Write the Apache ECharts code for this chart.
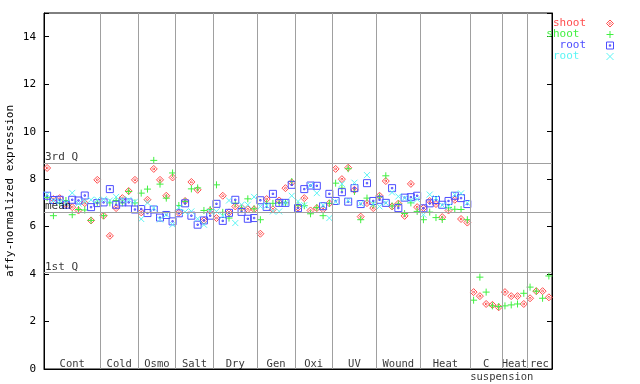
<!DOCTYPE html>
<html><head><meta charset="utf-8">
<script src="https://cdn.jsdelivr.net/npm/echarts@6/dist/echarts.min.js"></script>
<style>html,body{margin:0;padding:0;background:#fff}#c{width:640px;height:384px}</style>
</head><body><div id="c"></div>
<script>
// ---- data ----
const groups = ['Cont','Cold','Osmo','Salt','Dry','Gen','Oxi','UV','Wound','Heat','C','Heat','rec'];
const groupSizes = [9,6,6,6,7,6,6,7,7,8,5,4,4];
const suspensionLabel = 'suspension';
const suspensionCenter = 73.5;
const refLines = [{name:'3rd Q', value:8.68},{name:'mean', value:6.61},{name:'1st Q', value:4.08}];
const yTicks = [0,2,4,6,8,10,12,14];

const shootRed = [8.47,7.16,7.20,6.95,6.82,6.68,6.99,6.26,7.97,
  6.46,5.61,6.78,7.20,7.50,7.97,
  6.60,7.13,8.43,7.97,7.30,8.07,
  6.58,7.08,7.88,7.55,6.26,6.67,
  6.36,7.30,6.60,6.85,6.80,6.73,6.73,
  5.70,7.16,6.73,7.10,7.62,7.86,
  6.80,7.20,6.68,6.78,6.73,6.98,
  8.43,8.00,8.48,7.55,6.42,6.99,6.78,
  7.30,7.92,6.85,6.97,6.45,7.80,6.82,
  6.78,7.08,6.95,6.40,6.68,7.13,6.32,6.17,
  3.24,3.07,2.74,2.70,2.60,
  3.24,3.07,3.07,2.74,
  2.98,3.28,3.28,3.02];
const shootGreen = [7.22,6.46,7.02,7.10,6.50,6.72,6.70,6.26,7.00,
  6.46,7.00,7.10,7.00,7.48,7.00,
  7.41,7.58,8.79,7.79,7.20,8.26,
  6.89,7.06,7.59,7.63,6.68,6.72,
  7.76,6.60,6.36,6.98,6.76,7.17,6.75,
  6.29,6.98,6.98,7.00,7.00,7.90,
  6.90,6.88,6.54,6.80,6.46,6.98,
  7.83,7.62,8.44,7.48,6.29,7.20,6.93,
  7.25,8.14,6.87,6.95,6.55,7.00,6.64,
  6.29,6.61,6.38,6.30,6.81,6.73,6.72,6.29,
  2.90,3.87,3.24,2.66,2.63,
  2.66,2.70,2.74,3.19,
  3.45,3.28,2.98,3.92];
const rootBlue = [7.30,7.12,7.13,6.92,7.13,7.10,7.31,6.82,6.99,
  7.02,7.58,6.92,7.02,7.02,6.72,
  6.74,6.57,6.72,6.38,6.49,6.22,
  6.56,6.98,6.46,6.08,6.26,6.46,
  6.96,6.24,6.58,7.13,6.62,6.33,6.36,
  7.11,6.83,7.38,7.00,7.00,7.76,
  6.78,7.58,7.73,7.72,6.86,7.38,
  7.08,7.45,7.05,7.62,6.95,7.83,7.08,
  7.13,7.00,7.62,6.78,7.22,7.24,7.30,
  6.77,6.98,7.12,6.92,7.08,7.30,7.20,6.95,
  null,null,null,null,null,null,null,null,null,null,null,null,null];
const rootCyan = [7.35,7.10,7.05,7.00,7.42,6.97,7.06,7.13,7.13,
  7.15,7.10,7.25,7.15,7.13,7.05,
  6.32,7.00,6.78,6.30,6.50,6.08,
  6.80,6.62,6.64,6.33,6.08,6.64,
  6.64,6.45,7.10,6.15,6.92,6.92,7.25,
  6.85,6.88,6.64,6.64,7.00,7.30,
  7.06,6.90,7.73,7.41,6.90,6.36,
  7.05,7.80,7.10,7.85,6.97,8.17,6.95,
  6.85,7.00,7.44,7.27,7.20,7.10,7.15,
  6.50,7.35,7.20,6.90,6.85,7.35,7.40,7.00,
  null,null,null,null,null,null,null,null,null,null,null,null,null];

// ---- derived ----
const FONT = 'DejaVu Sans Mono';
const nPts = groupSizes.reduce((a,b)=>a+b,0);
const boundaries = []; const centers = [];
let acc = 0;
groupSizes.forEach((s,i)=>{ centers.push(acc + 0.5 + s/2); acc += s; if (i < groupSizes.length-1) boundaries.push(acc + 0.5); });
const toPts = arr => arr.map((v,i)=> v==null ? null : [i+1, v]).filter(p=>p);

const C_RED='#ff4d4d', C_GREEN='#40f040', C_BLUE='#4d4dff', C_CYAN='#5cf5f5';
const SYM_DIAMOND='path://M0,-3L3,0L0,3L-3,0Z M0,-1L1,0L0,1L-1,0Z';
const SYM_PLUS='path://M0,-3L0,3M-3,0L3,0';
const SYM_SQUARE='path://M-3,-3L3,-3L3,3L-3,3Z M-0.6,-0.6L0.6,-0.6L0.6,0.6L-0.6,0.6Z';
const SYM_X='path://M-3,-3L3,3M-3,3L3,-3';

function scatter(name, data, sym, size, col){
  return {name, type:'scatter', data:toPts(data), symbol:sym, symbolSize:size, clip:false,
    itemStyle:{color:'rgba(0,0,0,0)', borderColor:col, borderWidth:1, opacity:1}, silent:true};
}
function legendItem(name, col, sym){
  return {name, icon:sym, textStyle:{color:col},
    itemStyle:{color:'rgba(0,0,0,0)', borderColor:col, borderWidth:1}};
}

const chart = echarts.init(document.getElementById('c'), null, {renderer:'canvas'});
const gray = '#a0a0a0';
const option = {
  animation:false,
  backgroundColor:'#fff',
  grid:{left:44, right:88, top:13, bottom:15, show:true, borderColor:'#000', borderWidth:1,
    backgroundColor:'transparent', containLabel:false, outerBoundsMode:'none'},
  xAxis:{type:'value', min:0.5, max:nPts+0.5, axisLabel:{show:false}, axisTick:{show:false}, splitLine:{show:false},
    axisLine:{show:true, lineStyle:{color:'#000', width:1}}},
  yAxis:[{type:'value', min:0, max:15, interval:2, position:'left',
      name:'affy-normalized expression', nameLocation:'middle', nameGap:28, nameMoveOverlap:false,
      nameTextStyle:{fontFamily:FONT, fontSize:11, color:'#000'},
      axisLine:{show:true, lineStyle:{color:'#000'}},
      axisTick:{show:true, inside:true, length:5, lineStyle:{color:'#000'}},
      axisLabel:{fontFamily:FONT, fontSize:11, color:'#000', margin:8,
        formatter: v => yTicks.includes(v) ? String(v) : ''},
      splitLine:{show:false}},
    {type:'value', min:0, max:15, interval:2, position:'right',
      axisLine:{show:true, lineStyle:{color:'#000'}},
      axisTick:{show:true, inside:true, length:5, lineStyle:{color:'#000'}},
      axisLabel:{show:false}, splitLine:{show:false}}],
  legend:{orient:'vertical', right:21, top:13, align:'right', itemWidth:38, itemHeight:7, itemGap:0,
    selectedMode:false,
    textStyle:{fontFamily:FONT, fontSize:11, lineHeight:11, padding:0},
    data:[legendItem('shoot', C_RED, SYM_DIAMOND), legendItem('shoot ', C_GREEN, SYM_PLUS),
          legendItem('root', C_BLUE, SYM_SQUARE), legendItem('root ', C_CYAN, SYM_X)]},
  series:[
    {name:'frame', type:'scatter', data:[], silent:true,
      markLine:{silent:true, symbol:['none','none'], animation:false,
        lineStyle:{color:gray, type:'solid', width:1},
        label:{show:false},
        data: boundaries.map(b=>({xAxis:b})).concat(refLines.map(r=>({yAxis:r.value})))}},
    {name:'reflabels', type:'scatter', symbolSize:0, clip:false, silent:true,
      data: refLines.map(r=>({value:[0.5, r.value], name:r.name})),
      label:{show:true, position:[1,-11], formatter:'{b}', color:'#000', fontFamily:FONT, fontSize:11, align:'left', verticalAlign:'top'}},
    {name:'groups', type:'scatter', symbolSize:0, clip:false, silent:true,
      data: groups.map((g,i)=>({value:[centers[i], 0.22], name:g})).concat([{value:[suspensionCenter,-0.33], name:suspensionLabel}]),
      label:{show:true, position:'inside', formatter:'{b}', color:'#000', fontFamily:FONT, fontSize:10.5}},
    scatter('shoot', shootRed, SYM_DIAMOND, 7, C_RED),
    scatter('shoot ', shootGreen, SYM_PLUS, 7, C_GREEN),
    scatter('root', rootBlue, SYM_SQUARE, 7, C_BLUE),
    scatter('root ', rootCyan, SYM_X, 6, C_CYAN)
  ]
};
chart.setOption(option);
</script></body></html>
